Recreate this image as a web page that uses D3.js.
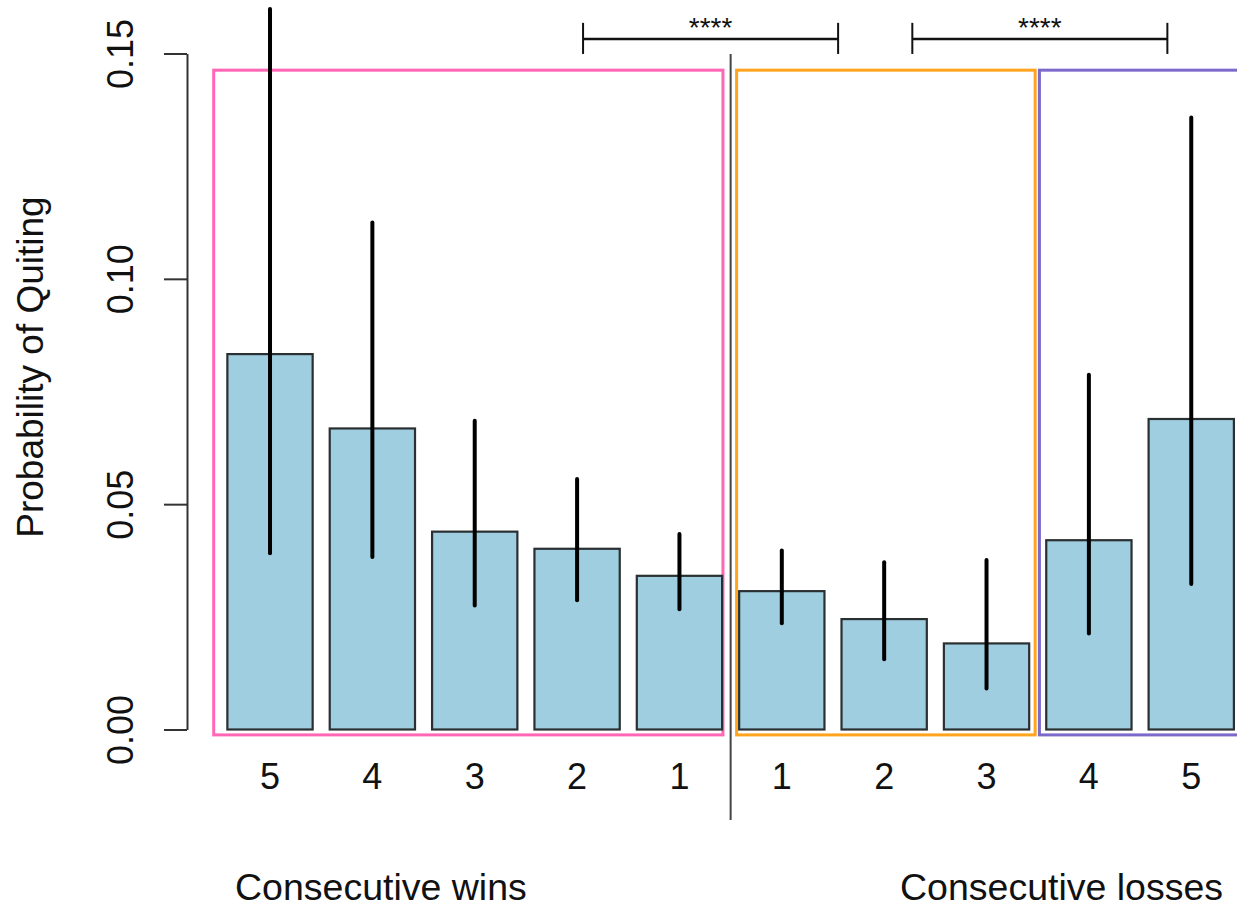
<!DOCTYPE html>
<html>
<head>
<meta charset="utf-8">
<script src="https://cdn.jsdelivr.net/npm/d3@7"></script>
<style>
  html, body { margin: 0; padding: 0; background: #fff; }
  svg text { font-family: "Liberation Sans", Arial, Helvetica, sans-serif; fill: #111; }
</style>
</head>
<body>
<svg id="chart" width="1237" height="909"></svg>
<script>
// Streak length per bar (wins on the left, losses on the right)
const streakLabels = ["5", "4", "3", "2", "1", "1", "2", "3", "4", "5"];
const streakGroup  = ["wins", "wins", "wins", "wins", "wins", "losses", "losses", "losses", "losses", "losses"];
// Probability of quitting and its interval
const quitProb  = [0.0833, 0.0668, 0.0439, 0.0401, 0.0341, 0.0307, 0.0245, 0.0191, 0.0420, 0.0689];
const quitLower = [0.0391, 0.0383, 0.0275, 0.0287, 0.0267, 0.0236, 0.0156, 0.0091, 0.0213, 0.0323];
const quitUpper = [0.1599, 0.1125, 0.0685, 0.0556, 0.0434, 0.0397, 0.0371, 0.0376, 0.0787, 0.1358];
// y axis ticks
const yTicks = [0, 0.05, 0.10, 0.15];
// Group boxes, in bar-position units
const groupBoxes = [
  { from: 0.04, to: 6.01, color: "#ff66b6" },
  { from: 6.17, to: 9.67, color: "#ffa41c" },
  { from: 9.72, to: 12.4, color: "#7c6acb" }
];
const boxTop = 0.1463, boxBottom = -0.0012;
// Significance brackets
const brackets = [
  { from: 4.37, to: 7.36, label: "****" },
  { from: 8.23, to: 11.22, label: "****" }
];
const bracketLevel = 0.1532, bracketTickHi = 0.1568, bracketTickLo = 0.1499;
const dividerAt = 6.1, dividerTop = 0.1499, dividerBottom = -0.0201;

const svg = d3.select("#chart");

// Bar positions are in units where each bar is 1 wide and the gap is 0.2
const x = d3.scaleLinear().domain([0, 12]).range([210.3, 1233.9]);
const band = d3.scaleBand()
  .domain(d3.range(quitProb.length))
  .range([x(0.1), x(12.1)])
  .paddingInner(1 / 6)
  .paddingOuter(1 / 12);
const y = d3.scaleLinear().domain([0, 0.15]).range([729.5, 53.5]);

// Group outline boxes
svg.append("g").selectAll("rect")
  .data(groupBoxes)
  .join("rect")
  .attr("x", d => x(d.from))
  .attr("y", y(boxTop))
  .attr("width", d => x(d.to) - x(d.from))
  .attr("height", y(boxBottom) - y(boxTop))
  .attr("fill", "none")
  .attr("stroke", d => d.color)
  .attr("stroke-width", 3);

// Bars
svg.append("g").selectAll("rect")
  .data(quitProb)
  .join("rect")
  .attr("x", (d, i) => band(i))
  .attr("y", d => y(d))
  .attr("width", band.bandwidth())
  .attr("height", d => y(0) - y(d))
  .attr("fill", "#9fcee0")
  .attr("stroke", "#2a2f31")
  .attr("stroke-width", 2.2);

// Interval lines
svg.append("g").selectAll("line")
  .data(quitProb)
  .join("line")
  .attr("x1", (d, i) => band(i) + band.bandwidth() / 2)
  .attr("x2", (d, i) => band(i) + band.bandwidth() / 2)
  .attr("y1", (d, i) => y(quitLower[i]))
  .attr("y2", (d, i) => y(quitUpper[i]))
  .attr("stroke", "#000")
  .attr("stroke-width", 4)
  .attr("stroke-linecap", "round");

// Divider between wins and losses
svg.append("line")
  .attr("x1", x(dividerAt)).attr("x2", x(dividerAt))
  .attr("y1", y(dividerTop)).attr("y2", y(dividerBottom))
  .attr("stroke", "#444").attr("stroke-width", 2);

// Significance brackets
const br = svg.append("g").selectAll("g").data(brackets).join("g");
br.append("line")
  .attr("x1", d => x(d.from)).attr("x2", d => x(d.to))
  .attr("y1", y(bracketLevel)).attr("y2", y(bracketLevel))
  .attr("stroke", "#111").attr("stroke-width", 2.5);
br.append("line")
  .attr("x1", d => x(d.from)).attr("x2", d => x(d.from))
  .attr("y1", y(bracketTickHi)).attr("y2", y(bracketTickLo))
  .attr("stroke", "#111").attr("stroke-width", 2);
br.append("line")
  .attr("x1", d => x(d.to)).attr("x2", d => x(d.to))
  .attr("y1", y(bracketTickHi)).attr("y2", y(bracketTickLo))
  .attr("stroke", "#111").attr("stroke-width", 2);
br.append("text")
  .attr("x", d => (x(d.from) + x(d.to)) / 2)
  .attr("y", 37)
  .attr("text-anchor", "middle")
  .attr("font-size", 28)
  .text(d => d.label);

// y axis with labels running along the axis
const yAxis = svg.append("g")
  .attr("transform", "translate(187,0)")
  .call(d3.axisLeft(y).tickValues(yTicks).tickFormat(d3.format(".2f")).tickSize(23).tickSizeOuter(0));
yAxis.select(".domain").attr("stroke", "#333").attr("stroke-width", 2);
yAxis.selectAll(".tick line").attr("stroke", "#333").attr("stroke-width", 2);
yAxis.selectAll(".tick text")
  .attr("x", 0).attr("y", 0).attr("dy", null)
  .attr("transform", "translate(-54,0) rotate(-90)")
  .attr("text-anchor", "middle")
  .attr("font-size", 36)
  .attr("fill", "#111");

// Streak length labels under each bar
svg.append("g").selectAll("text")
  .data(streakLabels)
  .join("text")
  .attr("x", (d, i) => band(i) + band.bandwidth() / 2)
  .attr("y", 789)
  .attr("text-anchor", "middle")
  .attr("font-size", 36)
  .text(d => d);

// Axis titles
svg.append("text")
  .attr("transform", "translate(43,367) rotate(-90)")
  .attr("text-anchor", "middle")
  .attr("font-size", 37)
  .text("Probability of Quiting");
svg.append("text")
  .attr("x", 235).attr("y", 900)
  .attr("font-size", 37.5)
  .text("Consecutive wins");
svg.append("text")
  .attr("x", 900).attr("y", 900)
  .attr("font-size", 37.5)
  .text("Consecutive losses");
</script>
</body>
</html>
